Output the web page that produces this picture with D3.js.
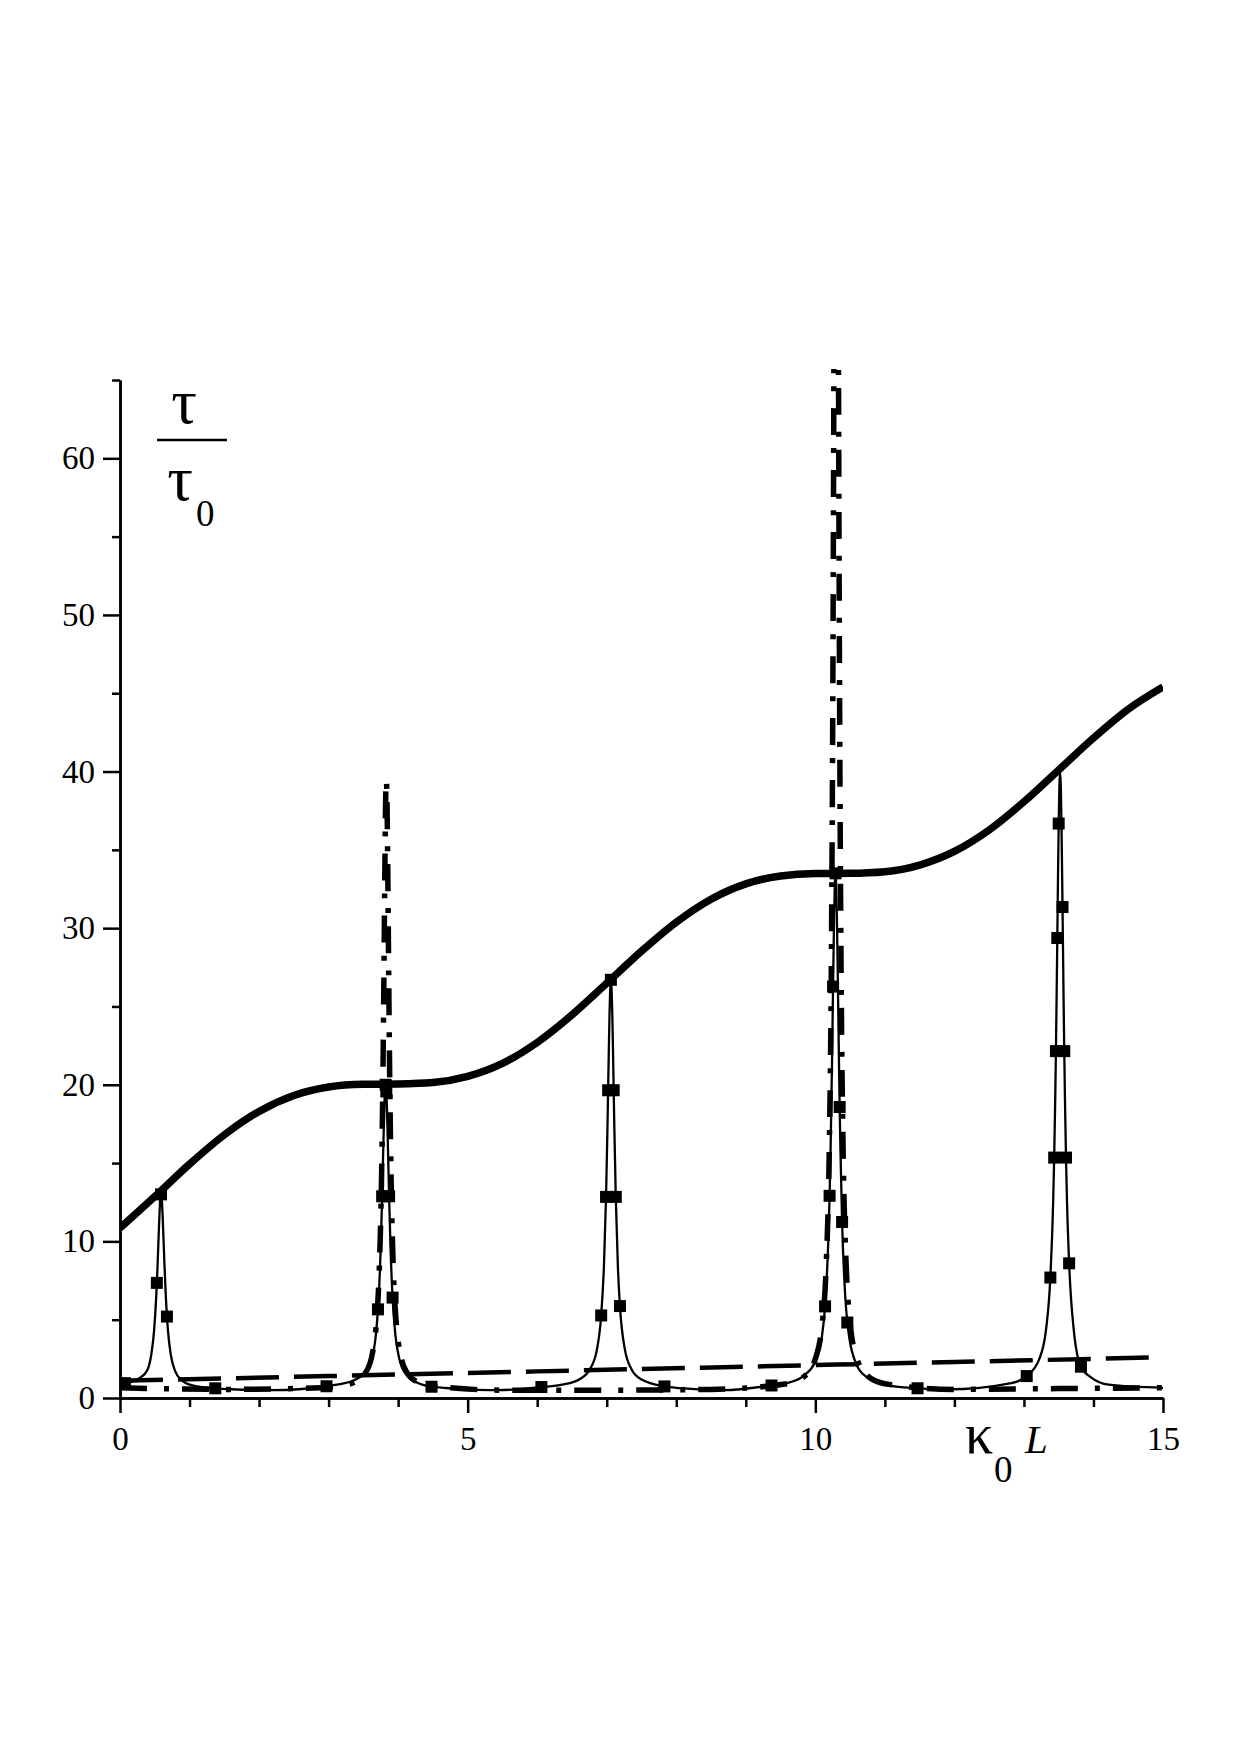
<!DOCTYPE html>
<html>
<head>
<meta charset="utf-8">
<title>tau / tau0 against kappa0 L</title>
<script src="https://d3js.org/d3.v7.min.js"></script>
<style>
    body { margin: 0; background: #fff; }
    text { font-family: "Liberation Serif", "Times New Roman", serif; fill: #000; }
</style>
</head>
<body>
<div id="chart"></div>

<script>
    // axis ticks
    var xMajor = [0, 5, 10, 15];
    var xMinor = [1, 2, 3, 4, 6, 7, 8, 9, 11, 12, 13, 14];
    var yMajor = [0, 10, 20, 30, 40, 50, 60];
    var yMinor = [5, 15, 25, 35, 45, 55, 65];

    // thick solid curve
    var thickCurve = [[0,10.85],[0.5,12.86],[1,14.93],[1.5,16.8],[2,18.3],[2.5,19.32],[3,19.86],[3.5,20.03],
        [4,20.05],[4.5,20.14],[5,20.53],[5.5,21.36],[6,22.7],[6.5,24.46],[7,26.48],[7.5,28.53],[8,30.38],
        [8.5,31.85],[9,32.83],[9.5,33.33],[10,33.49],[10.5,33.5],[11,33.6],[11.5,34.03],[12,34.9],
        [12.5,36.27],[13,38.07],[13.5,40.1],[14,42.14],[14.5,43.98],[15,45.4]];

    // thin solid curve, third value = 1 where a box symbol is drawn
    var thinCurve = [
        [0,0.9,0],[0.07,0.95,1],[0.14,1.0,0],[0.29,1.3,0],[0.39,1.75,0],[0.45,2.78,0],[0.49,4.29,0],
        [0.52,6.39,0],[0.53,7.35,1],[0.54,8.44,0],[0.555,10.26,0],[0.57,11.95,0],[0.58,12.73,0],[0.59,13.0,1],
        [0.6,12.73,0],[0.61,11.95,0],[0.625,10.26,0],[0.64,8.44,0],[0.66,6.39,0],[0.675,5.2,1],[0.69,4.29,0],
        [0.73,2.78,0],[0.79,1.75,0],[0.89,1.13,0],[1.04,0.81,0],[1.37,0.62,1],[1.59,0.56,0],[2.2,0.5,0],
        [2.97,0.75,1],[3.12,0.85,0],[3.37,1.15,0],[3.52,1.6,0],[3.62,2.45,0],[3.68,4.05,0],[3.71,5.66,1],
        [3.72,6.41,0],[3.75,9.68,0],[3.77,12.88,1],[3.785,15.73,0],[3.8,18.36,0],[3.81,19.57,0],[3.82,20.0,1],
        [3.83,19.57,1],[3.84,18.36,0],[3.855,15.73,0],[3.87,12.88,1],[3.89,9.68,0],[3.92,6.41,1],[3.96,4.05,0],
        [4.02,2.45,0],[4.12,1.48,0],[4.27,0.99,0],[4.48,0.72,1],[4.82,0.6,0],[5.44,0.5,0],
        [6.06,0.7,1],[6.36,0.85,0],[6.61,1.2,0],[6.76,1.85,0],[6.86,3.12,0],[6.92,5.27,1],[6.96,8.44,0],
        [6.99,12.84,1],[7.01,17.14,0],[7.02,19.65,1],[7.03,22.22,0],[7.04,24.5,0],[7.05,26.12,0],[7.06,26.7,1],
        [7.07,26.12,0],[7.08,24.5,0],[7.09,22.22,0],[7.1,19.65,1],[7.11,17.14,0],[7.13,12.84,1],[7.16,8.44,0],
        [7.19,5.87,1],[7.26,3.12,0],[7.36,1.81,0],[7.51,1.16,0],[7.83,0.74,1],[8.06,0.63,0],[8.68,0.5,0],
        [9.37,0.8,1],[9.59,0.95,0],[9.84,1.45,0],[9.99,2.25,0],[10.09,3.8,0],[10.14,5.85,1],[10.19,10.5,0],
        [10.205,12.91,1],[10.22,16.04,0],[10.24,21.46,0],[10.255,26.27,1],[10.27,30.73,0],[10.28,32.77,0],
        [10.29,33.5,1],[10.3,32.77,0],[10.31,30.73,0],[10.325,26.27,0],[10.34,21.46,0],[10.35,18.58,1],
        [10.36,16.04,0],[10.385,11.24,1],[10.43,6.51,0],[10.46,4.82,1],[10.49,3.8,0],[10.59,2.15,0],
        [10.74,1.33,0],[10.99,0.86,0],[11.47,0.62,1],[11.9,0.55,0],
        [12.82,0.95,0],[13.04,1.4,1],[13.22,2.48,0],[13.32,4.45,0],[13.38,7.69,1],[13.42,12.47,0],
        [13.435,15.35,1],[13.45,19.1,0],[13.46,22.15,1],[13.47,25.58,0],[13.48,29.37,1],[13.49,33.25,0],
        [13.5,36.68,1],[13.51,39.13,0],[13.52,40.0,0],[13.53,39.13,0],[13.54,36.68,0],[13.555,31.35,1],
        [13.57,25.58,0],[13.58,22.15,1],[13.59,19.1,0],[13.605,15.35,1],[13.62,12.47,0],[13.65,8.6,1],
        [13.72,4.2,0],[13.82,2.0,1],[13.97,1.3,0],[14.22,0.85,0],[15,0.65,0]
    ];

    // thick dash-dot curve
    var dashDotCurve = [[0,0.65],[1.5,0.55],[2.5,0.6],[3.13,0.75],[3.38,1.02],[3.53,1.6],[3.63,2.85],
        [3.69,4.96],[3.73,8.35],[3.76,13.73],[3.78,20.05],[3.795,26.72],[3.81,34.17],[3.82,38.07],[3.83,39.5],
        [3.84,38.07],[3.85,34.17],[3.865,26.72],[3.88,20.05],[3.9,13.73],[3.93,8.35],[3.97,4.96],[4.03,2.85],
        [4.13,1.6],[4.28,1.02],[4.53,0.75],[5.5,0.5],[7,0.5],[8.5,0.55],[9.6,0.91],[9.85,1.41],[10.0,2.5],
        [10.1,4.8],[10.16,8.9],[10.2,15.7],[10.23,27.6],[10.25,43.5],[10.26,55.5],[10.27,70.9],[10.28,88.5],
        [10.29,104],[10.3,110.5],[10.31,104],[10.32,88.5],[10.33,70.9],[10.34,55.5],[10.35,43.5],[10.37,27.6],
        [10.4,15.7],[10.44,8.9],[10.5,4.8],[10.6,2.5],[10.75,1.41],[11.0,0.91],[12,0.55],[13.5,0.6],[15,0.65]];

    // thick long-dash curve
    var dashCurve = [[0,1.1],[3,1.4],[6,1.7],[9,2.0],[12,2.3],[15,2.6]];

    var width = 1240, height = 1755;

    var svg = d3.select("#chart")
        .append("svg")
        .attr("width", width)
        .attr("height", height)
        .style("background", "#fff");

    var x = d3.scaleLinear().domain([0, 15]).range([120, 1163]);
    var y = d3.scaleLinear().domain([0, 65]).range([1398, 380]);

    // everything outside the plot box is cut
    svg.append("defs").append("clipPath")
        .attr("id", "clip")
        .append("rect")
        .attr("x", x(0))
        .attr("y", y(65.7))
        .attr("width", x(15) - x(0))
        .attr("height", y(0) - y(65.7));

    var line = d3.line()
        .x(function(d) { return x(d[0]); })
        .y(function(d) { return y(d[1]); })
        .curve(d3.curveMonotoneX);

    var plot = svg.append("g").attr("clip-path", "url(#clip)");

    plot.append("path")
        .datum(dashCurve)
        .attr("fill", "none")
        .attr("stroke", "#000")
        .attr("stroke-width", 4.5)
        .attr("stroke-dasharray", "43,15")
        .attr("d", line);

    plot.append("path")
        .datum(dashDotCurve)
        .attr("fill", "none")
        .attr("stroke", "#000")
        .attr("stroke-width", 5.5)
        .attr("stroke-dasharray", "27,17,5,13")
        .attr("d", line);

    plot.append("path")
        .datum(thinCurve)
        .attr("fill", "none")
        .attr("stroke", "#000")
        .attr("stroke-width", 2.3)
        .attr("d", line);

    plot.selectAll(".box")
        .data(thinCurve.filter(function(d) { return d[2]; }))
        .enter().append("rect")
        .attr("class", "box")
        .attr("x", function(d) { return x(d[0]) - 6; })
        .attr("y", function(d) { return y(d[1]) - 6; })
        .attr("width", 12)
        .attr("height", 12)
        .attr("fill", "#000");

    plot.append("path")
        .datum(thickCurve)
        .attr("fill", "none")
        .attr("stroke", "#000")
        .attr("stroke-width", 7.5)
        .attr("stroke-linejoin", "round")
        .attr("d", line);

    // axes: major ticks with labels, minor ticks without
    function styleAxis(g) {
        g.select(".domain").attr("stroke-width", 2.5);
        g.selectAll(".tick line").attr("stroke-width", 2.5);
        g.selectAll("text").style("font-size", "33px").style("font-family", "'Liberation Serif', serif");
    }

    svg.append("g")
        .attr("transform", "translate(0," + y(0) + ")")
        .call(d3.axisBottom(x).tickValues(xMinor).tickSize(9).tickSizeOuter(0).tickFormat(""))
        .call(styleAxis);
    svg.append("g")
        .attr("transform", "translate(0," + y(0) + ")")
        .call(d3.axisBottom(x).tickValues(xMajor).tickSize(15).tickSizeOuter(0).tickPadding(14).tickFormat(d3.format("d")))
        .call(styleAxis);

    svg.append("g")
        .attr("transform", "translate(" + x(0) + ",0)")
        .call(d3.axisLeft(y).tickValues(yMinor).tickSize(8).tickSizeOuter(0).tickFormat(""))
        .call(styleAxis);
    svg.append("g")
        .attr("transform", "translate(" + x(0) + ",0)")
        .call(d3.axisLeft(y).tickValues(yMajor).tickSize(17).tickSizeOuter(0).tickPadding(8).tickFormat(d3.format("d")))
        .call(styleAxis);

    // y label: tau over tau_0
    svg.append("text").attr("x", 184).attr("y", 423).attr("text-anchor", "middle")
        .style("font-size", "64px").text("τ");
    svg.append("line").attr("x1", 157).attr("x2", 227).attr("y1", 440).attr("y2", 440)
        .attr("stroke", "#000").attr("stroke-width", 2.5);
    svg.append("text").attr("x", 180).attr("y", 500).attr("text-anchor", "middle")
        .style("font-size", "64px").text("τ");
    svg.append("text").attr("x", 196).attr("y", 526)
        .style("font-size", "37px").text("0");

    // x label: kappa_0 L
    svg.append("text").attr("x", 965).attr("y", 1453)
        .style("font-size", "56px").text("κ");
    svg.append("text").attr("x", 994).attr("y", 1482)
        .style("font-size", "37px").text("0");
    svg.append("text").attr("x", 1025).attr("y", 1453)
        .style("font-size", "41px").style("font-style", "italic").text("L");
</script>
</body>
</html>
